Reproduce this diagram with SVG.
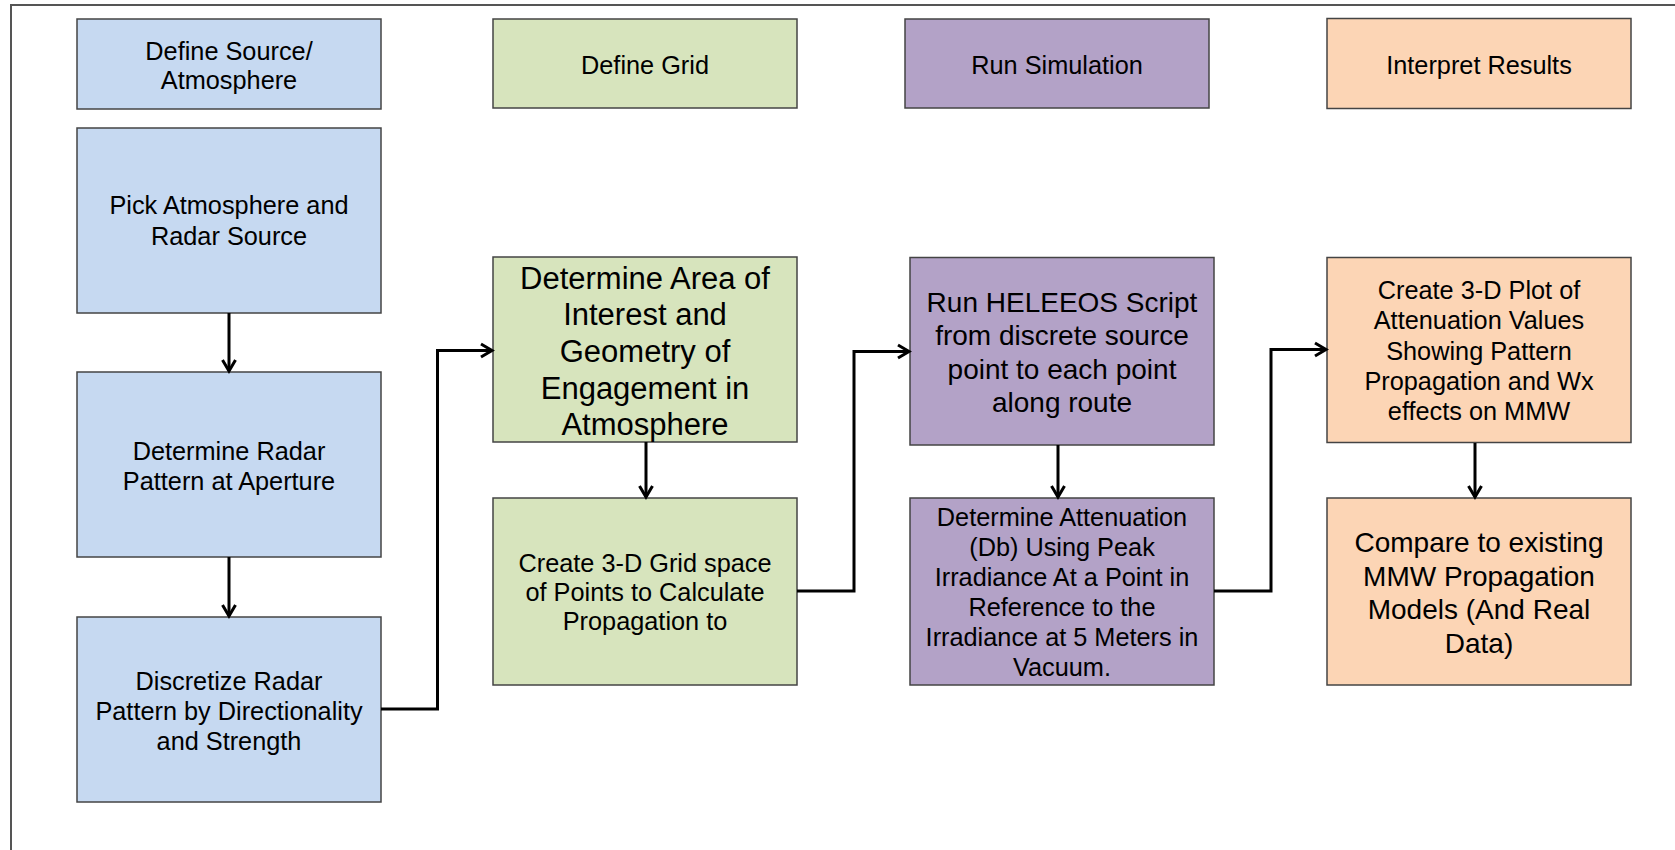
<svg xmlns="http://www.w3.org/2000/svg" width="1675" height="850" viewBox="0 0 1675 850">
<style>
.frame{fill:none;stroke:#555;stroke-width:2}
.box{stroke:#444;stroke-width:1.5}
.blue{fill:#C6D9F1}.green{fill:#D7E4BD}.purple{fill:#B3A2C7}.orange{fill:#FCD5B5}
text{font-family:"Liberation Sans",Arial,Helvetica,sans-serif;fill:#000;text-anchor:middle;font-size:25.3px}
.big{font-size:28px}.bigger{font-size:31px}
.conn{fill:none;stroke:#000;stroke-width:3}
</style>
<defs>
<marker id="arr" markerUnits="userSpaceOnUse" markerWidth="16" markerHeight="18" refX="13" refY="8" orient="auto" viewBox="0 0 16 16">
<path d="M2,1.5 L13,8 L2,14.5" fill="none" stroke="#000" stroke-width="3"/>
</marker>
</defs>
<rect class="frame" x="11" y="5" width="1700" height="900"/>
<g id="n-define-source"><rect class="box blue" x="77" y="19" width="304" height="90"/><text x="229" y="59.5">Define Source/</text><text x="229" y="88.5">Atmosphere</text></g>
<g id="n-define-grid"><rect class="box green" x="493" y="19" width="304" height="89"/><text x="645" y="74">Define Grid</text></g>
<g id="n-run-sim"><rect class="box purple" x="905" y="19" width="304" height="89"/><text x="1057" y="74">Run Simulation</text></g>
<g id="n-interpret"><rect class="box orange" x="1327" y="18.5" width="304" height="90"/><text x="1479" y="73.5">Interpret Results</text></g>
<g id="n-pick"><rect class="box blue" x="77" y="128" width="304" height="185"/><text x="229" y="214">Pick Atmosphere and</text><text x="229" y="245">Radar Source</text></g>
<g id="n-pattern"><rect class="box blue" x="77" y="372" width="304" height="185"/><text x="229" y="460">Determine Radar</text><text x="229" y="490">Pattern at Aperture</text></g>
<g id="n-discretize"><rect class="box blue" x="77" y="617" width="304" height="185"/><text x="229" y="690">Discretize Radar</text><text x="229" y="720">Pattern by Directionality</text><text x="229" y="749.5">and Strength</text></g>
<g id="n-area"><rect class="box green" x="493" y="257" width="304" height="185"/><text class="bigger" x="645" y="288.5">Determine Area of</text><text class="bigger" x="645" y="325">Interest and</text><text class="bigger" x="645" y="361.5">Geometry of</text><text class="bigger" x="645" y="398.5">Engagement in</text><text class="bigger" x="645" y="435">Atmosphere</text></g>
<g id="n-grid"><rect class="box green" x="493" y="498" width="304" height="187"/><text x="645" y="571.5">Create 3-D Grid space</text><text x="645" y="601">of Points to Calculate</text><text x="645" y="630">Propagation to</text></g>
<g id="n-heleeos"><rect class="box purple" x="910" y="257.5" width="304" height="187.5"/><text class="big" x="1062" y="311.5">Run HELEEOS Script</text><text class="big" x="1062" y="345">from discrete source</text><text class="big" x="1062" y="378.5">point to each point</text><text class="big" x="1062" y="412">along route</text></g>
<g id="n-atten"><rect class="box purple" x="910" y="498" width="304" height="187"/><text x="1062" y="526">Determine Attenuation</text><text x="1062" y="556">(Db) Using Peak</text><text x="1062" y="586">Irradiance At a Point in</text><text x="1062" y="616">Reference to the</text><text x="1062" y="646">Irradiance at 5 Meters in</text><text x="1062" y="676">Vacuum.</text></g>
<g id="n-plot"><rect class="box orange" x="1327" y="257.5" width="304" height="185"/><text x="1479" y="298.5">Create 3-D Plot of</text><text x="1479" y="328.5">Attenuation Values</text><text x="1479" y="359.5">Showing Pattern</text><text x="1479" y="389.5">Propagation and Wx</text><text x="1479" y="419.5">effects on MMW</text></g>
<g id="n-compare"><rect class="box orange" x="1327" y="498" width="304" height="187"/><text class="big" x="1479" y="552">Compare to existing</text><text class="big" x="1479" y="585.5">MMW Propagation</text><text class="big" x="1479" y="619">Models (And Real</text><text class="big" x="1479" y="652.5">Data)</text></g>
<g id="connectors">
<path class="conn" d="M229,313 V371" marker-end="url(#arr)"/>
<path class="conn" d="M229,557 V616" marker-end="url(#arr)"/>
<path class="conn" d="M381,709 H437.5 V350.5 H492" marker-end="url(#arr)"/>
<path class="conn" d="M646,442 V497" marker-end="url(#arr)"/>
<path class="conn" d="M797,591 H854 V351.5 H909" marker-end="url(#arr)"/>
<path class="conn" d="M1058,445 V497" marker-end="url(#arr)"/>
<path class="conn" d="M1214,591 H1271 V349.5 H1326" marker-end="url(#arr)"/>
<path class="conn" d="M1475,443 V497" marker-end="url(#arr)"/>
</g>
</svg>
